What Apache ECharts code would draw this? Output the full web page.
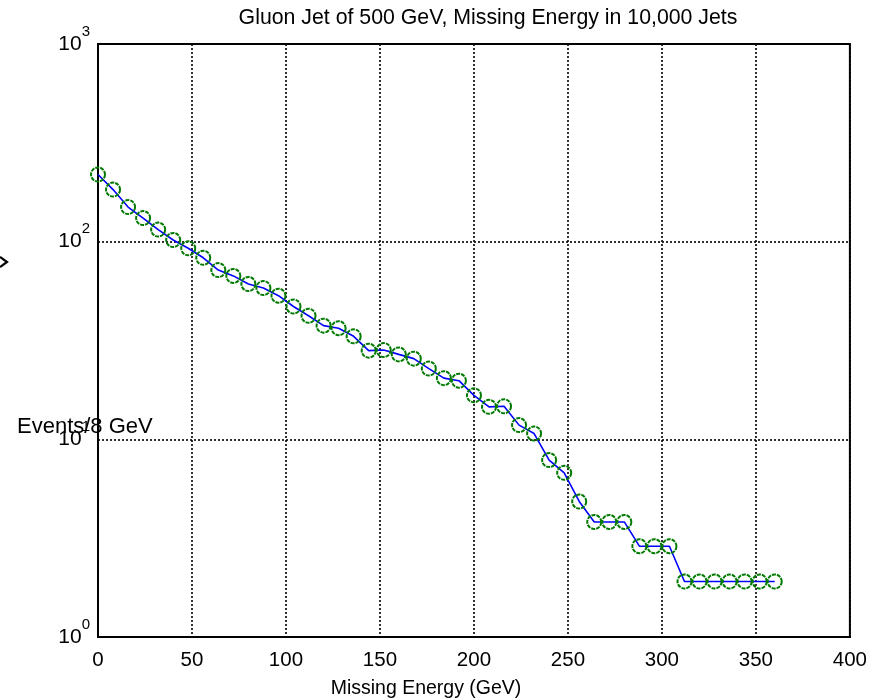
<!DOCTYPE html>
<html>
<head>
<meta charset="utf-8">
<script src="https://cdn.jsdelivr.net/npm/echarts@6/dist/echarts.min.js"></script>
<style>
  html, body { margin: 0; padding: 0; background: #fff; }
  #chart { width: 870px; height: 700px; }
</style>
</head>
<body>
<div id="chart"></div>
<script>
// Missing energy bins (GeV), 8 GeV wide
var energies = [0, 8, 16, 24, 32, 40, 48, 56, 64, 72, 80, 88, 96, 104, 112, 120,
  128, 136, 144, 152, 160, 168, 176, 184, 192, 200, 208, 216, 224, 232, 240, 248,
  256, 264, 272, 280, 288, 296, 304, 312, 320, 328, 336, 344, 352, 360];

// Events per 8 GeV bin
var events = [218.8, 183.4, 149.7, 131.6, 115.1, 102.0, 92.6, 82.9, 71.8, 67.1,
  61.1, 58.3, 53.3, 47.0, 42.2, 37.6, 36.5, 33.2, 28.1, 28.3, 26.9, 25.6, 22.8,
  20.4, 19.8, 16.7, 14.6, 14.7, 11.8, 10.7, 7.85, 6.77, 4.85, 3.82, 3.82, 3.82,
  2.88, 2.88, 2.88, 1.91, 1.91, 1.91, 1.91, 1.91, 1.91, 1.91];

// Axis ranges and tick settings
var xRange = [0, 400];
var xStep = 50;
var yRange = [1, 1000];

var titleText = 'Gluon Jet of 500 GeV, Missing Energy in 10,000 Jets';
var xName = 'Missing Energy (GeV)';
var yName = 'Events/8 GeV';

var FONT = '"Liberation Sans", Arial, Helvetica, sans-serif';
var points = energies.map(function (e, i) { return [e, events[i]]; });

var chart = echarts.init(document.getElementById('chart'), null, { renderer: 'canvas' });

var gridDash = { color: '#000', width: 1.6, type: [2, 2] };

chart.setOption({
  backgroundColor: '#fff',
  animation: false,
  textStyle: { fontFamily: FONT },
  grid: {
    left: 98, right: 17, top: 44, height: 593,
    show: true, borderColor: '#000', borderWidth: 2, backgroundColor: 'transparent'
  },
  xAxis: {
    type: 'value',
    min: xRange[0], max: xRange[1], interval: xStep,
    axisLine: { show: true, onZero: false, lineStyle: { color: '#000', width: 2 } },
    axisTick: { show: false },
    splitLine: { show: true, lineStyle: gridDash },
    axisLabel: { color: '#000', fontSize: 20.5, fontFamily: FONT, margin: 13,
      showMinLabel: true, showMaxLabel: true }
  },
  yAxis: {
    type: 'log', logBase: 10,
    min: yRange[0], max: yRange[1],
    axisLine: { show: true, lineStyle: { color: '#000', width: 2 } },
    axisTick: { show: false },
    splitLine: { show: true, lineStyle: gridDash },
    axisLabel: {
      color: '#000', margin: 8, showMinLabel: true, showMaxLabel: true,
      formatter: function (v) {
        return '{b|10}{s|' + Math.round(Math.log10(v)) + '}';
      },
      rich: {
        b: { fontSize: 21, fontFamily: FONT, color: '#000', lineHeight: 40 },
        s: { fontSize: 15, fontFamily: FONT, color: '#000', lineHeight: 16, verticalAlign: 'top' }
      }
    }
  },
  graphic: [
    { type: 'text', x: 488, y: 18, style: { text: titleText, font: '21.3px ' + FONT,
      fill: '#000', textAlign: 'center', textVerticalAlign: 'middle' } },
    { type: 'text', x: 426, y: 689, style: { text: xName, font: '19.5px ' + FONT,
      fill: '#000', textAlign: 'center', textVerticalAlign: 'middle' } },
    { type: 'text', x: 17, y: 427, z: 100, style: { text: yName, font: '22px ' + FONT,
      fill: '#000', textAlign: 'left', textVerticalAlign: 'middle' } },
    // small chevron at the left edge
    { type: 'polyline', shape: { points: [[0, 257], [7, 262], [0, 267]] },
      style: { stroke: '#000', lineWidth: 2.2, fill: null } }
  ],
  series: [{
    type: 'line',
    data: points,
    symbol: 'circle',
    symbolSize: 14,
    showAllSymbol: true,
    lineStyle: { color: '#0000ff', width: 1.6 },
    itemStyle: { color: 'rgba(0,0,0,0)', borderColor: '#007a00', borderWidth: 2,
      borderType: [4, 1] },
    z: 5
  }]
});
</script>
</body>
</html>
